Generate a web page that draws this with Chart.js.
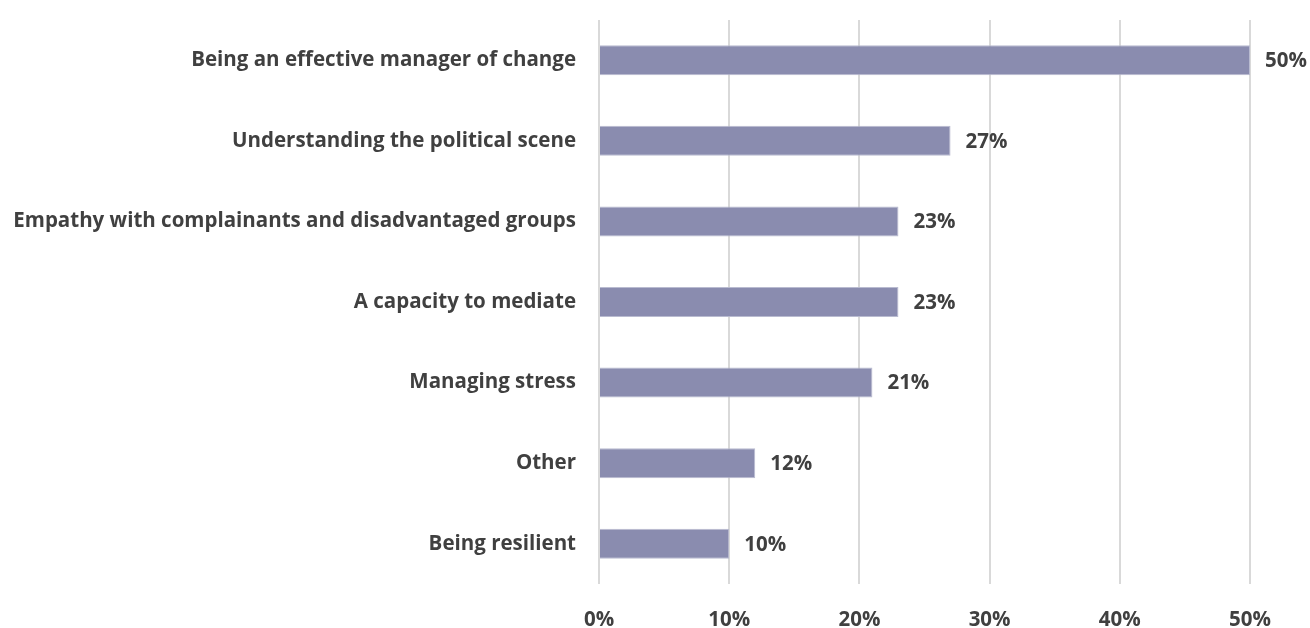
<!DOCTYPE html>
<html>
<head>
<meta charset="utf-8">
<script src="https://cdn.jsdelivr.net/npm/chart.js@4"></script>
<style>
  html, body { margin: 0; padding: 0; background: #ffffff; }
  #wrap { width: 1310px; height: 628px; }
</style>
</head>
<body>
<div id="wrap"><canvas id="barChart" width="1310" height="628"></canvas></div>
<script>
var categories = [
    "Being an effective manager of change",
    "Understanding the political scene",
    "Empathy with complainants and disadvantaged groups",
    "A capacity to mediate",
    "Managing stress",
    "Other",
    "Being resilient"
];
var shares = [50, 27, 23, 23, 21, 12, 10];
var xTicks = [0, 10, 20, 30, 40, 50];

var textColor = '#404040';
var fontFamily = '"Open Sans", Lato, sans-serif';
var fontSize = 20.5;

// writes the percentage just past the end of each bar
var valueLabels = {
    id: 'valueLabels',
    afterDatasetsDraw: function (chart) {
        var ctx = chart.ctx;
        var meta = chart.getDatasetMeta(0);
        ctx.save();
        ctx.font = 'bold ' + fontSize + 'px ' + fontFamily;
        ctx.fillStyle = textColor;
        ctx.textAlign = 'left';
        ctx.textBaseline = 'middle';
        meta.data.forEach(function (bar, i) {
            ctx.fillText(shares[i] + '%', bar.x + 15, bar.y + 1);
        });
        ctx.restore();
    }
};

document.addEventListener('DOMContentLoaded', function () {
    var ctx = document.getElementById('barChart').getContext('2d');
    new Chart(ctx, {
        type: 'bar',
        data: {
            labels: categories,
            datasets: [{
                data: shares,
                backgroundColor: '#8a8caf',
                borderColor: '#b9bbd0',
                borderWidth: 1,
                barPercentage: 0.372,
                categoryPercentage: 1.0
            }]
        },
        options: {
            indexAxis: 'y',
            responsive: false,
            animation: false,
            layout: { padding: { top: 20, right: 60, bottom: 0, left: 0 } },
            plugins: {
                legend: { display: false },
                tooltip: { enabled: false }
            },
            scales: {
                x: {
                    min: 0,
                    max: 50,
                    afterBuildTicks: function (scale) {
                        scale.ticks = xTicks.map(function (v) { return { value: v }; });
                    },
                    afterFit: function (scale) {
                        scale.height = 44;
                        scale.paddingLeft = 0;
                        scale.paddingRight = 0;
                    },
                    grid: { color: '#d9d9d9', lineWidth: 2, drawTicks: false },
                    border: { display: false },
                    ticks: {
                        padding: 24,
                        color: textColor,
                        font: { family: fontFamily, size: fontSize, weight: 'bold' },
                        callback: function (v) { return v + '%'; }
                    }
                },
                y: {
                    afterFit: function (scale) {
                        scale.width = 599;
                        scale.paddingTop = 0;
                        scale.paddingBottom = 0;
                    },
                    grid: { display: false, drawTicks: false },
                    border: { display: false },
                    ticks: {
                        padding: 23,
                        color: textColor,
                        font: { family: fontFamily, size: fontSize, weight: 'bold' }
                    }
                }
            }
        },
        plugins: [valueLabels]
    });
});
</script>
</body>
</html>
